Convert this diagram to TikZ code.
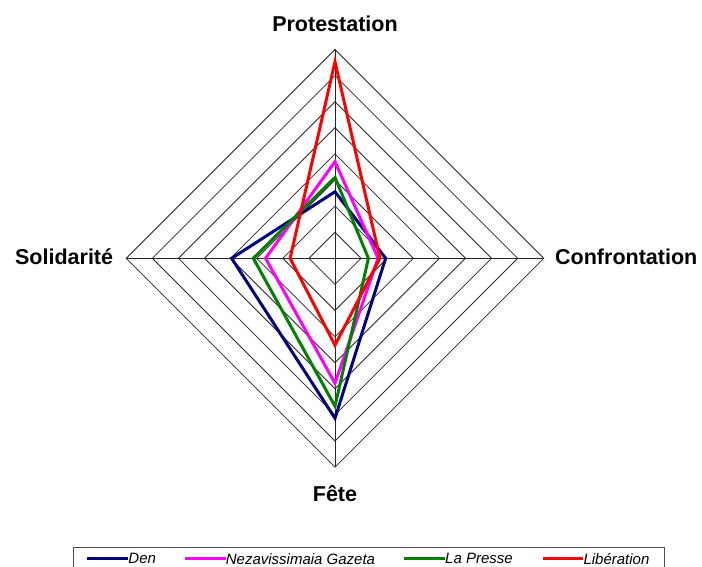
\documentclass[tikz,border=0pt]{standalone}
\usepackage{fontspec}
\setmainfont{Liberation Sans}
\definecolor{den}{RGB}{0,0,128}
\definecolor{nezav}{RGB}{255,0,255}
\definecolor{presse}{RGB}{0,128,0}
\definecolor{libe}{RGB}{255,0,0}
\tikzset{
  grille/.style={black!85,line width=0.8pt},
  serie/.style={line width=3pt,line join=miter},
  axe/.style={font=\fontsize{21.5}{26}\selectfont\bfseries,inner sep=0pt},
  legende/.style={font=\fontsize{15}{18}\selectfont\itshape,inner sep=0pt,anchor=west}
}
\begin{document}
\begin{tikzpicture}[x=26.1pt,y=26.1pt]
\useasboundingbox (-335pt,-308.7pt) rectangle (367pt,258.3pt);

% grille
\draw[grille] (0,1)--(1,0)--(0,-1)--(-1,0)--cycle;
\draw[grille] (0,2)--(2,0)--(0,-2)--(-2,0)--cycle;
\draw[grille] (0,3)--(3,0)--(0,-3)--(-3,0)--cycle;
\draw[grille] (0,4)--(4,0)--(0,-4)--(-4,0)--cycle;
\draw[grille] (0,5)--(5,0)--(0,-5)--(-5,0)--cycle;
\draw[grille] (0,6)--(6,0)--(0,-6)--(-6,0)--cycle;
\draw[grille] (0,7)--(7,0)--(0,-7)--(-7,0)--cycle;
\draw[grille] (0,8)--(8,0)--(0,-8)--(-8,0)--cycle;
\draw[grille] (0,-8)--(0,8);
\draw[grille] (-8,0)--(8,0);

% axes
\node (protestation) [axe,anchor=base] at (0,226.6pt) {Protestation};
\node (confrontation) [axe,anchor=base west] at (220pt,-6.7pt) {Confrontation};
\node (fete) [axe,anchor=base] at (0,-243.4pt) {Fête};
\node (solidarite) [axe,anchor=base east] at (-221.7pt,-6.7pt) {Solidarité};

% series
\draw[serie,den] (0,2.55)--(1.94,0)--(0,-6.13)--(-3.96,0)--cycle;
\draw[serie,nezav] (0,3.70)--(1.65,0)--(0,-4.79)--(-2.66,0)--cycle;
\draw[serie,presse] (0,3.10)--(1.28,0)--(0,-5.67)--(-3.13,0)--cycle;
\draw[serie,libe] (0,7.53)--(1.72,0)--(0,-3.33)--(-1.72,0)--cycle;

% legende
\draw[black!70,line width=0.8pt] (-261.7pt,-312pt)|-(329.3pt,-289.4pt)--(329.3pt,-312pt);
\node (lden) [legende] at (-206.7pt,-300.5pt) {Den};
\node (lnezav) [legende] at (-109.3pt,-300.5pt) {Nezavissimaia Gazeta};
\node (lpresse) [legende] at (110pt,-300.5pt) {La Presse};
\node (llibe) [legende] at (248.3pt,-300.5pt) {Libération};
\draw[serie,den] (-247.7pt,-300.5pt)--(lden.west);
\draw[serie,nezav] (-150pt,-300.5pt)--(lnezav.west);
\draw[serie,presse] (69pt,-300.5pt)--(lpresse.west);
\draw[serie,libe] (208.3pt,-300.5pt)--(llibe.west);
\end{tikzpicture}
\end{document}
